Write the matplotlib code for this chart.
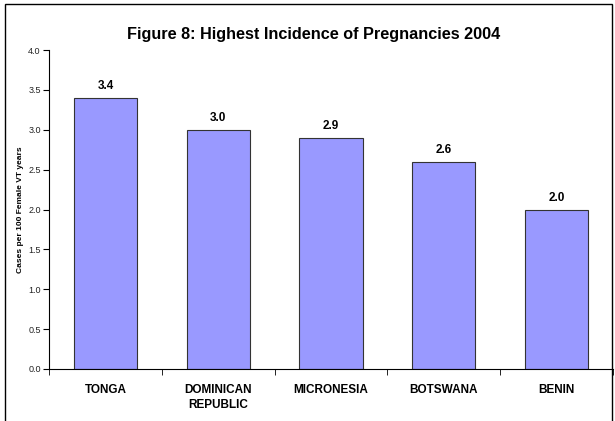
import matplotlib

matplotlib.use("Agg")
import matplotlib.pyplot as plt
from matplotlib.patches import Rectangle

categories = ["TONGA", "DOMINICAN\nREPUBLIC", "MICRONESIA", "BOTSWANA", "BENIN"]
values = [3.4, 3.0, 2.9, 2.6, 2.0]
y_ticks = [0.0, 0.5, 1.0, 1.5, 2.0, 2.5, 3.0, 3.5, 4.0]

plt.rcParams["font.family"] = ["Liberation Sans", "DejaVu Sans"]

W, H = 615, 421
fig = plt.figure(figsize=(W / 100, H / 100), dpi=100)
ax = fig.add_axes([49 / W, 1 - 369 / H, (613 - 49) / W, (369 - 50) / H])

# outer chart border
fig.add_artist(Rectangle((5 / W, -0.05), (612 - 5) / W, 1.05 - 4 / H,
                         transform=fig.transFigure, fill=False,
                         edgecolor="black", linewidth=1.0))

x = list(range(len(categories)))
ax.bar(x, values, width=0.56, color="#9999FF", edgecolor="#333333", linewidth=0.8)
for xi, v in zip(x, values):
    ax.text(xi, v + 0.07, f"{v:.1f}", ha="center", va="bottom",
            fontsize=8.5, fontweight="bold")

ax.set_xlim(-0.5, len(categories) - 0.5)
ax.set_ylim(0, 4.0)
ax.set_yticks(y_ticks)
ax.set_yticklabels([f"{t:.1f}" for t in y_ticks], fontsize=6.5, color="#222222")
ax.set_xticks(x)
ax.set_xticklabels(categories, fontsize=8.5, fontweight="bold", linespacing=1.3)
ax.set_xticks([i - 0.5 for i in range(len(categories) + 1)], minor=True)
ax.tick_params(axis="x", which="major", length=0, pad=11)
ax.tick_params(axis="x", which="minor", length=4, direction="out")
ax.tick_params(axis="y", length=4, width=0.8, pad=2)
ax.spines["top"].set_visible(False)
ax.spines["right"].set_visible(False)
ax.set_ylabel("Cases per 100 Female VT years", fontsize=6, fontweight="bold", labelpad=3)

fig.text(314 / W, 1 - 35 / H, "Figure 8: Highest Incidence of Pregnancies 2004",
         ha="center", va="center", fontsize=11.7, fontweight="bold")

fig.savefig("out.png", dpi=100)
